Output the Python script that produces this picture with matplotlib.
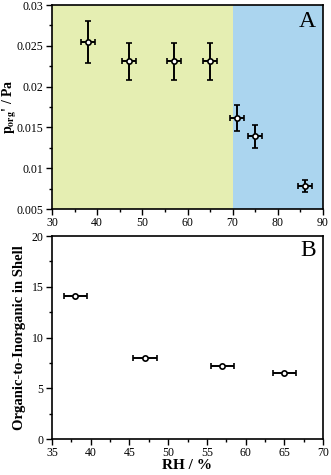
import matplotlib
matplotlib.use("Agg")
import matplotlib.pyplot as plt
from matplotlib.ticker import MultipleLocator

plt.rcParams['font.family'] = ['Liberation Serif', 'DejaVu Serif']
plt.rcParams['mathtext.fontset'] = 'stix'

# panel A
rh_a = [38, 47, 57, 65, 71, 75, 86]
p_org = [0.0255, 0.0231, 0.0231, 0.0231, 0.0162, 0.0139, 0.0078]
p_err = [0.0026, 0.0023, 0.0023, 0.0023, 0.0016, 0.0014, 0.0007]
rh_err_a = [1.5, 1.5, 1.5, 1.5, 1.5, 1.5, 1.5]

# panel B
rh_b = [38, 47, 57, 65]
ratio = [14.1, 8.0, 7.2, 6.5]
rh_err_b = [1.5, 1.5, 1.5, 1.5]

fig = plt.figure(figsize=(3.31, 4.75), dpi=100)
W, H = 331, 475
axA = fig.add_axes([52 / W, 1 - 209 / H, 271 / W, 204 / H])
axB = fig.add_axes([52 / W, 1 - 439 / H, 271 / W, 203 / H])

eb = dict(fmt='o', color='black', mfc='white', mec='black', ms=3.8, mew=1.2,
          elinewidth=1.4, capsize=2.5, capthick=1.4)

axA.axvspan(30, 70, color='#e5eeb2', lw=0, zorder=0)
axA.axvspan(70, 90, color='#abd5ef', lw=0, zorder=0)
axA.errorbar(rh_a, p_org, yerr=p_err, xerr=rh_err_a, **eb)
axA.set_xlim(30, 90)
axA.set_ylim(0.005, 0.03)
axA.xaxis.set_major_locator(MultipleLocator(10))
axA.xaxis.set_minor_locator(MultipleLocator(5))
axA.yaxis.set_major_locator(MultipleLocator(0.005))
axA.yaxis.set_minor_locator(MultipleLocator(0.0025))
axA.yaxis.set_major_formatter(plt.FuncFormatter(lambda v, p: '%g' % round(v, 4)))
axA.set_ylabel(r"$\mathbf{p_{org}}$' / Pa", fontsize=10, fontweight='bold')
axA.yaxis.set_label_coords(-33 / 271, 0.5)
axA.text(0.975, 0.97, 'A', transform=axA.transAxes, fontsize=17, ha='right', va='top')

axB.errorbar(rh_b, ratio, xerr=rh_err_b, **eb)
axB.set_xlim(35, 70)
axB.set_ylim(0, 20)
axB.xaxis.set_major_locator(MultipleLocator(5))
axB.xaxis.set_minor_locator(MultipleLocator(2.5))
axB.yaxis.set_major_locator(MultipleLocator(5))
axB.yaxis.set_minor_locator(MultipleLocator(2.5))
axB.set_ylabel('Organic-to-Inorganic in Shell', fontsize=10.5, fontweight='bold', labelpad=4)
axB.set_xlabel('RH / %', fontsize=11, fontweight='bold', labelpad=0)
axB.text(0.975, 0.98, 'B', transform=axB.transAxes, fontsize=17, ha='right', va='top')

for ax in (axA, axB):
    ax.tick_params(which='both', direction='out', top=False, right=False, labelsize=8.5, pad=2)
    ax.tick_params(which='major', length=4, width=1)
    ax.tick_params(which='minor', length=2.5, width=1)
    for s in ax.spines.values():
        s.set_linewidth(1.2)

fig.savefig('out.png', dpi=100)
